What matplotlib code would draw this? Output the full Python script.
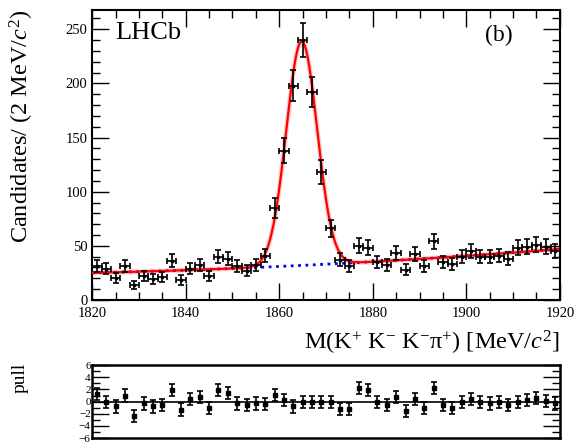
import numpy as np
import matplotlib
matplotlib.use("Agg")
import matplotlib.pyplot as plt
from matplotlib.ticker import MultipleLocator

plt.rcParams["font.family"] = ["Liberation Serif", "DejaVu Serif"]
plt.rcParams["mathtext.fontset"] = "custom"
plt.rcParams["mathtext.rm"] = "Liberation Serif"
plt.rcParams["mathtext.it"] = "Liberation Serif:italic"

# ---------- data ----------
mass = np.arange(1821, 1920, 2)  # bin centres, 2 MeV bins
counts = [31, 29, 20, 31, 14, 22, 19.5, 21, 36, 18.5,
          29, 32, 22, 40, 38, 31, 27, 32, 41, 85,
          138, 198, 240, 192, 118, 66, 37, 31, 50, 48,
          35, 32, 43, 28, 42, 31, 54, 35, 33, 40,
          45, 40, 40, 41, 38, 48, 49, 51, 49, 45]
pulls = [1.2, 0.0, -0.8, 1.0, -2.4, -0.3, -0.8, -0.5, 1.9, -1.3,
         0.5, 0.8, -1.0, 1.9, 1.4, -0.3, -0.5, -0.3, -0.4, 1.1,
         0.3, -0.8, 0.0, 0.0, 0.0, 0.0, -1.2, -1.2, 2.2, 1.9,
         0.0, -0.5, 0.8, -1.6, 0.5, -1.1, 2.2, -0.5, -1.1, 0.0,
         0.5, 0.0, -0.3, 0.0, -0.5, 0.0, 0.3, 0.6, 0.1, -0.3]

# fit model parameters (signal gaussian + quadratic background)
sig_mean = 1864.8
sig_width = 3.3
sig_height = 207.0
bkg_points_x = [1820, 1870, 1920]
bkg_points_y = [25, 33, 47]

counts = np.array(counts)
errs = np.sqrt(counts)

bkg_coef = np.polyfit(bkg_points_x, bkg_points_y, 2)
mfine = np.linspace(1820, 1920, 800)
bkg = np.polyval(bkg_coef, mfine)
total = bkg + sig_height * np.exp(-0.5 * ((mfine - sig_mean) / sig_width) ** 2)

fig = plt.figure(figsize=(5.76, 4.47), dpi=100)
ax = fig.add_axes([0.16, 0.329, 0.812, 0.649])
axp = fig.add_axes([0.16, 0.02, 0.812, 0.163])

# ---------- main panel ----------
ax.plot(mfine, bkg, color="blue", linestyle=":", linewidth=2, zorder=2)
ax.plot(mfine, total, color="red", linewidth=3.5, alpha=0.2, zorder=3)
ax.plot(mfine, total, color="red", linewidth=1.6, zorder=3)
ax.errorbar(mass, counts, yerr=errs, xerr=1, fmt="s", color="black",
            markersize=2, elinewidth=1.2, capsize=2, capthick=1.2, zorder=4)

ax.set_xlim(1820, 1920)
ax.set_ylim(0, 268)
ax.xaxis.set_major_locator(MultipleLocator(20))
ax.xaxis.set_minor_locator(MultipleLocator(5))
ax.yaxis.set_major_locator(MultipleLocator(50))
ax.yaxis.set_minor_locator(MultipleLocator(10))
ax.tick_params(which="both", direction="in", top=True, right=True,
               labelsize=10.5, width=1)
ax.tick_params(axis="x", pad=5)
ax.tick_params(which="major", length=12)
ax.tick_params(which="minor", length=6)
for s in ax.spines.values():
    s.set_linewidth(1.5)

ax.set_ylabel("Candidates/ (2 MeV/$c^2$)", fontsize=17.5, loc="top")
ax.yaxis.set_label_coords(-0.12, 1.0)
ax.set_xlabel("M(K$^{+}$ K$^{-}$ K$^{-}$π$^{+}$) [MeV/$c^2$]", fontsize=17.5,
              loc="right")
ax.xaxis.set_label_coords(1.0, -0.1)

ax.text(0.05, 0.92, "LHCb", transform=ax.transAxes, fontsize=19,
        va="center", ha="left")
ax.text(0.84, 0.91, "(b)", transform=ax.transAxes, fontsize=17,
        va="center", ha="left")

# ---------- pull panel ----------
axp.axhline(0, color="black", linewidth=1.2)
axp.errorbar(mass, pulls, yerr=1, fmt="s", color="black", markersize=2.2,
             elinewidth=1.2, capsize=2, capthick=1.2)
axp.set_xlim(1820, 1920)
axp.set_ylim(-6, 6)
axp.set_xticks([])
axp.yaxis.set_major_locator(MultipleLocator(2))
axp.yaxis.set_minor_locator(MultipleLocator(1))
axp.tick_params(which="both", direction="in", right=True, labelsize=8,
                pad=1, width=1)
axp.tick_params(which="major", length=12)
axp.tick_params(which="minor", length=6)
for s in axp.spines.values():
    s.set_linewidth(1.8)
axp.set_ylabel("pull", fontsize=14)
axp.yaxis.set_label_coords(-0.135, 0.82)

fig.savefig("out.png", dpi=100)
